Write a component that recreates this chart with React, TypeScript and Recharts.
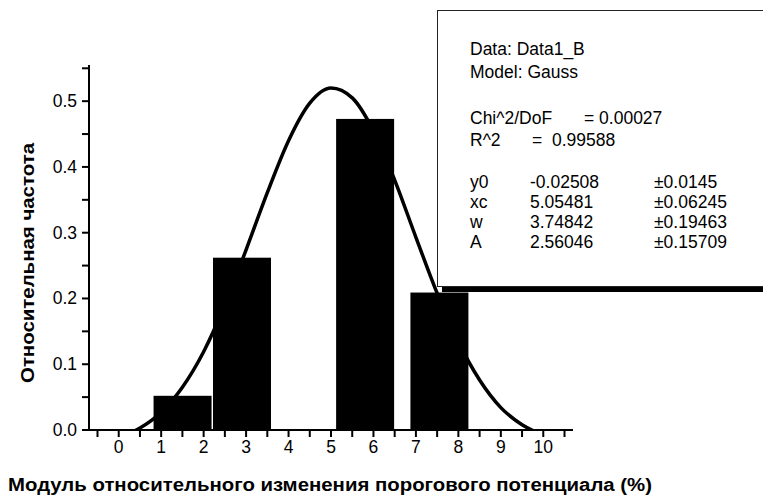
import React from "react";
import { ComposedChart, Bar, Line, XAxis, YAxis } from "recharts";

// histogram bins (bin centre, relative frequency)
const binCenters = [1.5, 2.9, 5.8, 7.55];
const binFreq = [0.052, 0.262, 0.473, 0.209];

// Gauss fit
const fitX = [0, 0.5, 1, 1.5, 2, 2.5, 3, 3.5, 4, 4.5, 5, 5.5, 6, 6.5, 7, 7.5, 8, 8.5, 9, 9.5, 10];
const fitY = [
  -0.011, 0.003, 0.027, 0.065, 0.119, 0.19, 0.274, 0.361, 0.44, 0.497, 0.52,
  0.505, 0.455, 0.38, 0.293, 0.208, 0.134, 0.076, 0.034, 0.008, -0.008,
];

const xTicks = [-0.5, 0, 0.5, 1, 1.5, 2, 2.5, 3, 3.5, 4, 4.5, 5, 5.5, 6, 6.5, 7, 7.5, 8, 8.5, 9, 9.5, 10, 10.5];
const yTicks = [0, 0.05, 0.1, 0.15, 0.2, 0.25, 0.3, 0.35, 0.4, 0.45, 0.5, 0.55];

const fitInfo = [
  ["y0", "-0.02508", "±0.0145"],
  ["xc", "5.05481", "±0.06245"],
  ["w", "3.74842", "±0.19463"],
  ["A", "2.56046", "±0.15709"],
];

const FONT = "'Liberation Sans', Arial, sans-serif";
const BAR_W = 58;

const chartData = [
  ...fitX.map((x, i) => ({ x, fit: fitY[i], freq: null as number | null })),
  ...binCenters.map((x, i) => ({ x, fit: null as number | null, freq: binFreq[i] })),
].sort((a, b) => a.x - b.x);

const isMajor = (v: number, step: number) => Math.abs(v / step - Math.round(v / step)) < 1e-6;

function XTick(props: any) {
  const { x, y, payload } = props;
  if (!isMajor(payload.value, 1) || payload.value < 0) return null;
  return (
    <text x={x} y={y} dy={12} textAnchor="middle" fontFamily={FONT} fontSize={17.5} fill="#000">
      {payload.value}
    </text>
  );
}

function YTick(props: any) {
  const { x, y, payload } = props;
  if (!isMajor(payload.value, 0.1)) return null;
  return (
    <text x={x} y={y} dy={6} textAnchor="end" fontFamily={FONT} fontSize={17.5} fill="#000">
      {payload.value.toFixed(1)}
    </text>
  );
}

// bars are wide fixed-width blocks centred on the bin value
function BinBar(props: any) {
  const { x, y, width, height } = props;
  if (height == null || height <= 0) return null;
  const cx = x + width / 2;
  return <rect x={cx - BAR_W / 2} y={y} width={BAR_W} height={height} fill="#000" />;
}

const cell: React.CSSProperties = { position: "absolute", whiteSpace: "nowrap", lineHeight: "20px" };

export default function App() {
  return (
    <div style={{ position: "absolute", left: 0, top: 0, width: 763, height: 497, overflow: "hidden", background: "#fff" }}>
      <ComposedChart
        width={763}
        height={497}
        data={chartData}
        margin={{ top: 65, right: 190, bottom: 0, left: 0 }}
      >
        <XAxis
          dataKey="x"
          type="number"
          domain={[-0.7, 10.7]}
          ticks={xTicks}
          interval={0}
          height={67}
          allowDataOverflow
          stroke="#000"
          strokeWidth={2}
          tickSize={7}
          tickMargin={4}
          tick={<XTick />}
          label={{
            content: () => (
              <text
                x={8}
                y={491}
                textLength={644}
                lengthAdjust="spacingAndGlyphs"
                fontFamily={FONT}
                fontSize={17.5}
                fontWeight="bold"
                fill="#000"
              >
                Модуль относительного изменения порогового потенциала (%)
              </text>
            ),
          }}
        />
        <YAxis
          type="number"
          domain={[0, 0.555]}
          ticks={yTicks}
          interval={0}
          width={89}
          allowDataOverflow
          stroke="#000"
          strokeWidth={2}
          tickSize={7}
          tickMargin={5}
          tick={<YTick />}
          label={{
            content: () => (
              <text
                x={34}
                y={383}
                transform="rotate(-90 34 383)"
                textLength={240}
                lengthAdjust="spacingAndGlyphs"
                fontFamily={FONT}
                fontSize={17.5}
                fontWeight="bold"
                fill="#000"
              >
                Относительная частота
              </text>
            ),
          }}
        />
        <Bar dataKey="freq" fill="#000" shape={<BinBar />} isAnimationActive={false} />
        <Line
          dataKey="fit"
          type="monotone"
          stroke="#000"
          strokeWidth={3.5}
          dot={false}
          connectNulls
          isAnimationActive={false}
        />
      </ComposedChart>
      <div
        style={{
          position: "absolute",
          left: 437,
          top: 10,
          width: 340,
          height: 275,
          background: "#fff",
          border: "1px solid #222",
          boxShadow: "5px 5px 0 #000",
          fontFamily: FONT,
          fontSize: 17.5,
          color: "#000",
        }}
      >
        <div style={{ ...cell, left: 32, top: 28 }}>Data: Data1_B</div>
        <div style={{ ...cell, left: 32, top: 51 }}>Model: Gauss</div>
        <div style={{ ...cell, left: 32, top: 97 }}>Chi^2/DoF</div>
        <div style={{ ...cell, left: 146, top: 97 }}>= 0.00027</div>
        <div style={{ ...cell, left: 32, top: 119 }}>R^2</div>
        <div style={{ ...cell, left: 94, top: 119 }}>=&nbsp; 0.99588</div>
        {fitInfo.map((row, i) => (
          <React.Fragment key={row[0]}>
            <div style={{ ...cell, left: 32, top: 161 + i * 20 }}>{row[0]}</div>
            <div style={{ ...cell, left: 92, top: 161 + i * 20 }}>{row[1]}</div>
            <div style={{ ...cell, left: 216, top: 161 + i * 20 }}>{row[2]}</div>
          </React.Fragment>
        ))}
      </div>
    </div>
  );
}
